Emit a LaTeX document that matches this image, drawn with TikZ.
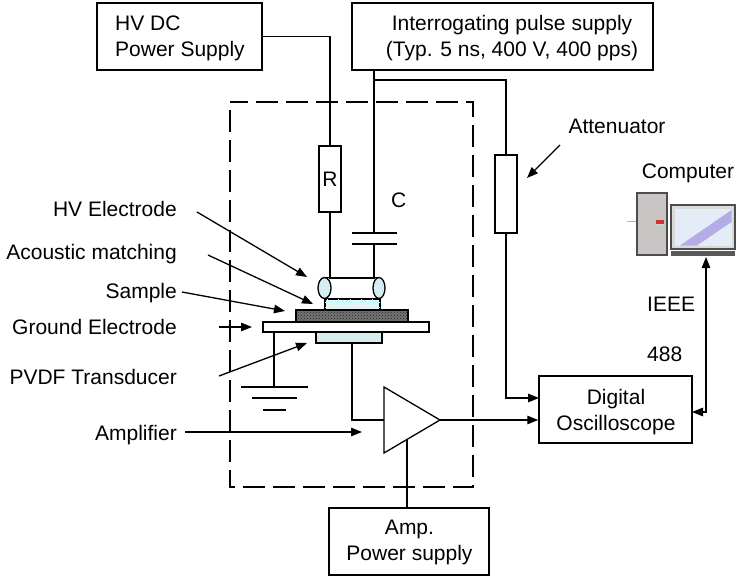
\documentclass[tikz,border=0pt]{standalone}
\usepackage{fontspec}
\setmainfont{Liberation Sans}
\usetikzlibrary{arrows.meta,patterns}

\definecolor{paleblue}{HTML}{D5ECF1}
\definecolor{matchfill}{HTML}{E8F5F7}
\definecolor{towergray}{HTML}{C9C5C4}
\definecolor{screenbg}{HTML}{E4ECF8}
\definecolor{screenband}{HTML}{B3ACE6}

\begin{document}
\begin{tikzpicture}[x=1pt,y=-1pt,
  every node/.style={font=\fontsize{21}{26}\selectfont, inner sep=0pt},
  wire/.style={line width=1.3pt},
  box/.style={draw, line width=1.5pt, inner sep=0pt},
  tip/.style={-{Triangle[length=11pt,width=8.5pt]}},
  arr/.style={wire, tip},
  layer/.style={draw, line width=1.3pt, inner sep=0pt},
  tag/.style={anchor=base east}]

\useasboundingbox (0,0) rectangle (736,578);

% ---------- supplies and instruments ----------
% (a multi-line node's base anchor sits on its last line)
\node[box, minimum width=165pt, minimum height=67pt] (hvdc) at (179.5,36.5) {};
\node[anchor=base west, align=left] (hvdctext) at (115,57) {HV DC\\Power Supply};

\node[box, minimum width=301pt, minimum height=67pt] (pulse) at (502.5,36.5) {};
\node[anchor=base, align=center] (pulsetext) at (512,57) {Interrogating pulse supply\\(Typ. 5 ns, 400 V, 400 pps)};

\node[box, minimum width=153pt, minimum height=67pt] (osc) at (615.5,409.5) {};
\node[anchor=base, align=center] (osctext) at (616,430) {Digital\\Oscilloscope};

\node[box, minimum width=160pt, minimum height=67pt] (ampps) at (409,541.5) {};
\node[anchor=base, align=center] (amppstext) at (409.5,560) {Amp.\\Power supply};

% ---------- resistor, attenuator, capacitor ----------
\node[box, minimum width=22pt, minimum height=66pt] (R) at (330,179) {R};
\node[box, minimum width=22pt, minimum height=78pt] (att) at (506,194) {};

\coordinate (ctop) at (374,233);
\coordinate (cbot) at (374,244);
\draw[wire] (352,233) -- (397,233) (352,244) -- (397,244);
\node[anchor=base west] (clabel) at (391,207) {C};

% ---------- sample cell ----------
\coordinate (hvl) at (330,278);
\coordinate (hvr) at (374,278);
\draw[wire] (324.5,277.5) -- (379,277.5) (324.5,298.5) -- (379,298.5);
\draw[wire, fill=paleblue] (324.5,288) ellipse [x radius=6.5pt, y radius=10.5pt];
\draw[wire, fill=paleblue] (379,288) ellipse [x radius=6pt, y radius=10.5pt];

\node[layer, fill=matchfill, minimum width=55pt, minimum height=11pt,
  postaction={pattern=bricks, pattern color=cyan!25!white}] (match) at (352.5,304.5) {};
\node[layer, fill=black!55, minimum width=112pt, minimum height=12pt,
  postaction={pattern=crosshatch dots, pattern color=black!85}] (sample) at (352,316) {};
\node[layer, fill=white, minimum width=166pt, minimum height=10pt] (gel) at (346,327) {};
\node[layer, fill=paleblue, minimum width=66pt, minimum height=11pt] (pvdf) at (349,337.5) {};

% ground symbol
\coordinate (gnd) at (274,387);
\draw[wire] (gel.south -| gnd) -- (gnd);
\draw[wire] (241,387) -- (308,387) (252,398) -- (297,398) (263,410) -- (286,410);

% ---------- amplifier ----------
\coordinate (ampA) at (384,387);
\coordinate (ampB) at (384,453);
\coordinate (amptip) at (440,420);
\coordinate (ampin) at (384,420);
\coordinate (amppwr) at (407,439.4);
\draw[wire] (ampA) -- (amptip) -- (ampB) -- cycle;

% ---------- shielded enclosure ----------
\draw[line width=2.8pt, dash pattern=on 22pt off 8pt, dash phase=22pt] (230,102) rectangle (473,487);

% ---------- wiring ----------
\draw[wire] (hvdc.east) -| (R.north);
\draw[wire] (pulse.south -| ctop) -- (ctop);
\coordinate (tap) at (374,80);
\draw[wire] (tap) -| (att.north);
\draw[wire] (R.south) -- (hvl) -- (hvr) -- (cbot);
\draw[wire] (pvdf.south -| 352,0) |- (ampin);
\draw[wire] (amppwr) -- (amppwr |- ampps.north);
\draw[arr] (amptip) -- (amptip -| osc.west);
\coordinate (oscA) at (539,398);
\draw[arr] (att.south) |- (oscA);

% ---------- computer ----------
\draw[black!30, line width=0.8pt] (627,221) -- (637,221);
\draw[fill=towergray, draw=black!70, line width=1.5pt] (637,193) rectangle (667,255);
\draw[black!22, line width=0.8pt] (642,204) -- (662,204);
\fill[red!75!black!80] (656,220) rectangle (664,223.5);
\fill[green!40!black!25] (656,224) rectangle (664,225.5);
\draw[fill=black!15, draw=black!70, line width=1.5pt] (671,205) rectangle (735,249);
\fill[screenbg] (674.5,208.5) rectangle (731.5,245.5);
\fill[screenband] (680,245.5) -- (697,245.5) -- (731.5,222) -- (731.5,210) -- cycle;
\fill[black!65] (671,251) rectangle (735,255.5);
\node[anchor=base] (pclabel) at (688,178) {Computer};
\coordinate (pcport) at (706,257);
\coordinate (oscB) at (692,412);
\draw[wire, {Triangle[length=11pt,width=8.5pt]}-{Triangle[length=11pt,width=8.5pt]}] (pcport) |- (oscB);
\node[anchor=base west] (ieee) at (647,311) {IEEE};
\node[anchor=base west] (ieeenum) at (647,361) {488};

% ---------- labels and pointers ----------
\node[anchor=base] (attlabel) at (617,133) {Attenuator};
\coordinate (atttail) at (560,145);
\coordinate (atthead) at (527,178);
\draw[arr] (atttail) -- (atthead);

\node[tag] (hvelabel) at (177,216) {HV Electrode};
\node[tag] (matchlabel) at (177,259) {Acoustic matching};
\node[tag] (samplelabel) at (177,298) {Sample};
\node[tag] (gellabel) at (177,334) {Ground Electrode};
\node[tag] (pvdflabel) at (177,384) {PVDF Transducer};
\node[tag] (amplabel) at (177,440) {Amplifier};

\coordinate (hvetail) at (197,212);   \coordinate (hvehead) at (307,277);
\coordinate (matchtail) at (208,255); \coordinate (matchhead) at (313,304);
\coordinate (sampletail) at (182,292);\coordinate (samplehead) at (285,311);
\coordinate (geltail) at (219,327);   \coordinate (gelhead) at (252,327);
\coordinate (pvdftail) at (219,376);  \coordinate (pvdfhead) at (307,343);
\coordinate (amptail) at (185,432);   \coordinate (amphead) at (362,432);
\draw[arr] (hvetail) -- (hvehead);
\draw[arr] (matchtail) -- (matchhead);
\draw[arr] (sampletail) -- (samplehead);
\draw[arr] (geltail) -- (gelhead);
\draw[arr] (pvdftail) -- (pvdfhead);
\draw[arr] (amptail) -- (amphead);
\end{tikzpicture}
\end{document}
